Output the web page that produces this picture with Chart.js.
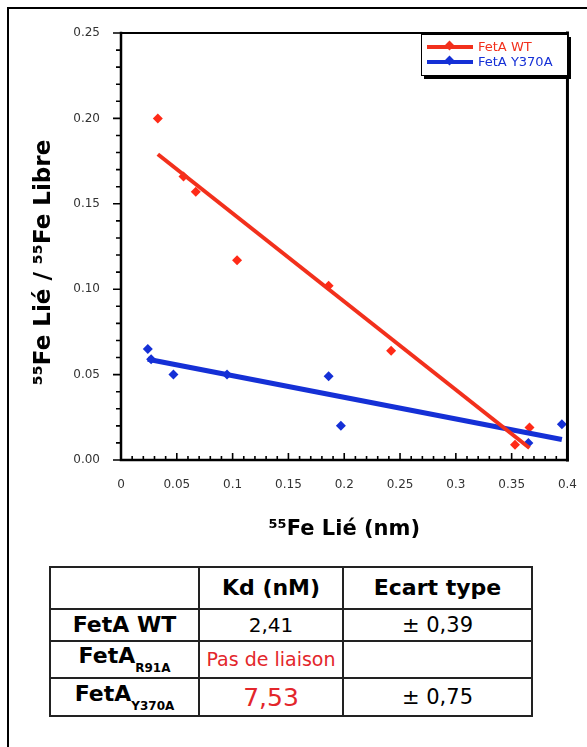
<!DOCTYPE html>
<html>
<head>
<meta charset="utf-8">
<script src="https://cdn.jsdelivr.net/npm/chart.js@4.4.0/dist/chart.umd.min.js"></script>
<style>
  html, body { margin: 0; padding: 0; background: #fff; }
  body { width: 587px; height: 747px; position: relative; overflow: hidden; font-family: "DejaVu Sans", sans-serif; }
  .frame { position: absolute; left: 7px; top: 7px; width: 600px; height: 760px; border-left: 2px solid #000; border-top: 2px solid #000; }
  #chartBox { position: absolute; left: 0; top: 0; width: 587px; height: 546px; }
  .legend { position: absolute; left: 421px; top: 34px; width: 145px; height: 40px; border: 1.5px solid #000;
            box-shadow: 3px 3px 0 #000; background: #fff; }
  .legend .item { position: absolute; left: 5px; height: 15px; display: flex; align-items: center; }
  .legend .swatch { position: relative; width: 46px; height: 4px; margin-right: 5px; }
  .legend .swatch i { position: absolute; left: 19px; top: -2.5px; width: 7px; height: 7px; transform: rotate(45deg); }
  .legend .lbl { font-size: 13px; line-height: 15px; }
  table { position: absolute; left: 49px; top: 566px; border-collapse: collapse; table-layout: fixed; }
  td { border: 2px solid #222; text-align: center; vertical-align: middle; padding: 0; line-height: 1; }
  td.name { font-weight: bold; font-size: 22px; }
  td.name sub { font-size: 12px; vertical-align: -9px; }
  td.head { font-weight: bold; font-size: 22px; }
  td.val { font-size: 20px; }
  td.sd { font-size: 21px; }
  .red { color: #e3262b; }
</style>
</head>
<body>
<div class="frame"></div>
<div id="chartBox"><canvas id="c" width="587" height="546"></canvas></div>
<div class="legend" id="legend"></div>
<table id="kdTable">
  <colgroup><col style="width:149px"><col style="width:144px"><col style="width:189px"></colgroup>
  <tbody></tbody>
</table>
<script>
'use strict';

// ── data ─────────────────────────────────────────────────
const SERIES   = ['FetA WT', 'FetA Y370A'];
const COLORS   = ['#f2301c', '#1530d6'];

const WT_X     = [0.033, 0.056, 0.067, 0.104, 0.186, 0.242, 0.353, 0.366];
const WT_Y     = [0.200, 0.166, 0.157, 0.117, 0.102, 0.064, 0.009, 0.019];
const Y370A_X  = [0.024, 0.027, 0.047, 0.095, 0.186, 0.197, 0.365, 0.395];
const Y370A_Y  = [0.065, 0.059, 0.050, 0.050, 0.049, 0.020, 0.010, 0.021];

// linear fits (end points)
const WT_FIT_X    = [0.033, 0.366];
const WT_FIT_Y    = [0.179, 0.007];
const Y370A_FIT_X = [0.024, 0.395];
const Y370A_FIT_Y = [0.059, 0.012];

const X_TICKS  = [0, 0.05, 0.1, 0.15, 0.2, 0.25, 0.3, 0.35, 0.4];
const Y_TICKS  = [0, 0.05, 0.10, 0.15, 0.20, 0.25];
const MINOR    = 0.01;

// table
const ROW_NAMES = ['WT', 'R91A', 'Y370A'];
const KD_VALUES = ['2,41', 'Pas de liaison', '7,53'];
const SD_VALUES = ['± 0,39', '', '± 0,75'];

const pts = (xs, ys) => xs.map((x, i) => ({ x, y: ys[i] }));

// ── frame + major/minor ticks ────────────────────────────
const frameTicks = {
    id: 'frameTicks',
    afterDraw(chart) {
        const { ctx, chartArea: a, scales: { x, y } } = chart;
        ctx.save();
        ctx.strokeStyle = '#000';
        ctx.lineWidth = 1.6;
        ctx.beginPath();
        const ny = Math.round(y.max / MINOR);
        for (let i = 0; i <= ny; i++) {
            const py = y.getPixelForValue(i * MINOR);
            const len = i % 5 === 0 ? 8 : 5;
            ctx.moveTo(a.left - len, py);
            ctx.lineTo(a.left, py);
        }
        const nx = Math.round(x.max / MINOR);
        for (let i = 0; i <= nx; i++) {
            const px = x.getPixelForValue(i * MINOR);
            const len = i % 5 === 0 ? 7 : 4;
            ctx.moveTo(px, a.bottom);
            ctx.lineTo(px, a.bottom - len);
        }
        ctx.stroke();

        ctx.lineCap = 'square';
        ctx.lineWidth = 2.5;
        ctx.beginPath();
        ctx.moveTo(a.left, a.top);
        ctx.lineTo(a.left, a.bottom);
        ctx.lineTo(a.right, a.bottom);
        ctx.stroke();
        ctx.lineWidth = 2;
        ctx.beginPath();
        ctx.moveTo(a.left, a.top);
        ctx.lineTo(a.right, a.top);
        ctx.stroke();
        ctx.lineWidth = 3;
        ctx.beginPath();
        ctx.moveTo(a.right, a.top);
        ctx.lineTo(a.right, a.bottom);
        ctx.stroke();
        ctx.restore();
    }
};

const tickFont = { family: 'DejaVu Sans', size: 12 };

new Chart(document.getElementById('c'), {
    type: 'scatter',
    data: {
        datasets: [
            {
                label: SERIES[0] + ' fit',
                type: 'line',
                data: pts(WT_FIT_X, WT_FIT_Y),
                borderColor: COLORS[0],
                borderWidth: 4,
                pointRadius: 0,
                fill: false,
            },
            {
                label: SERIES[1] + ' fit',
                type: 'line',
                data: pts(Y370A_FIT_X, Y370A_FIT_Y),
                borderColor: COLORS[1],
                borderWidth: 5,
                pointRadius: 0,
                fill: false,
            },
            {
                label: SERIES[0],
                data: pts(WT_X, WT_Y),
                pointStyle: 'rectRot',
                pointRadius: 5,
                backgroundColor: '#ff2a17',
                borderWidth: 0,
            },
            {
                label: SERIES[1],
                data: pts(Y370A_X, Y370A_Y),
                pointStyle: 'rectRot',
                pointRadius: 5,
                backgroundColor: COLORS[1],
                borderWidth: 0,
            }
        ]
    },
    options: {
        responsive: false,
        animation: false,
        layout: { padding: { left: 26, top: 33, right: 18, bottom: 0 } },
        plugins: { legend: { display: false }, tooltip: { enabled: false } },
        scales: {
            x: {
                type: 'linear',
                min: 0, max: 0.4,
                grid: { display: false },
                border: { display: false },
                afterBuildTicks: s => { s.ticks = X_TICKS.map(v => ({ value: v })); },
                afterFit: s => { s.height = 86; },
                ticks: {
                    padding: 10,
                    color: '#333',
                    font: tickFont,
                    maxRotation: 0,
                    autoSkip: false,
                    callback: v => String(+v.toFixed(2))
                },
                title: {
                    display: true,
                    text: '⁵⁵Fe Lié (nm)',
                    color: '#000',
                    font: { family: 'DejaVu Sans', size: 21, weight: 'bold' }
                }
            },
            y: {
                type: 'linear',
                min: 0, max: 0.25,
                grid: { display: false },
                border: { display: false },
                afterBuildTicks: s => { s.ticks = Y_TICKS.map(v => ({ value: v })); },
                afterFit: s => { s.width = 95; },
                ticks: {
                    padding: 13,
                    color: '#333',
                    font: tickFont,
                    autoSkip: false,
                    callback: v => v.toFixed(2)
                },
                title: {
                    display: true,
                    text: '⁵⁵Fe Lié / ⁵⁵Fe Libre\u00a0\u00a0\u00a0\u00a0',
                    color: '#000',
                    font: { family: 'DejaVu Sans', size: 23, weight: 'bold' }
                }
            }
        }
    },
    plugins: [frameTicks]
});

// ── legend (inside plot, top right) ──────────────────────
const legend = document.getElementById('legend');
SERIES.forEach((name, i) => {
    const item = document.createElement('div');
    item.className = 'item';
    item.style.top = (4 + i * 15) + 'px';
    item.innerHTML = `<span class="swatch" style="background:${COLORS[i]}"><i style="background:${COLORS[i]}"></i></span>` +
                     `<span class="lbl" style="color:${COLORS[i]}">${name}</span>`;
    legend.appendChild(item);
});

// ── Kd table ─────────────────────────────────────────────
const tbody = document.querySelector('#kdTable tbody');
const head = document.createElement('tr');
head.style.height = '42px';
head.innerHTML = '<td></td><td class="head">Kd (nM)</td><td class="head">Ecart type</td>';
tbody.appendChild(head);
const rowH = [32, 37, 38];
ROW_NAMES.forEach((n, i) => {
    const tr = document.createElement('tr');
    tr.style.height = rowH[i] + 'px';
    const name = n === 'WT' ? 'FetA WT' : `FetA<sub>${n}</sub>`;
    let kdCls = 'val', kdStyle = '';
    if (i === 1) { kdCls = 'val red'; kdStyle = 'font-size:19px'; }
    if (i === 2) { kdCls = 'val red'; kdStyle = 'font-size:25px'; }
    tr.innerHTML = `<td class="name">${name}</td><td class="${kdCls}" style="${kdStyle}">${KD_VALUES[i]}</td><td class="sd">${SD_VALUES[i]}</td>`;
    tbody.appendChild(tr);
});
</script>
</body>
</html>
